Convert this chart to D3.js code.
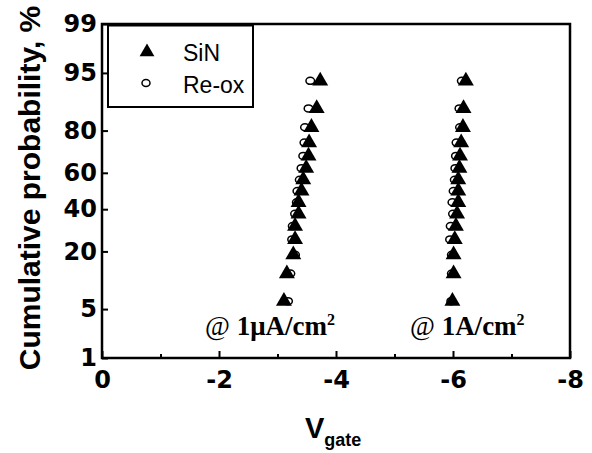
<!DOCTYPE html>
<html><head><meta charset="utf-8">
<script src="https://cdn.jsdelivr.net/npm/d3@7"></script>
<style>body{margin:0;background:#fff}</style>
</head><body>
<svg id="c" width="592" height="453"></svg>
<script>
// ---- data ----
const cumulativePercent = [6.25, 12.5, 18.75, 25, 31.25, 37.5, 43.75, 50, 56.25, 62.5, 68.75, 75, 81.25, 87.5, 93.75];
const sinLow  = [-3.11, -3.16, -3.27, -3.30, -3.30, -3.36, -3.36, -3.41, -3.44, -3.49, -3.53, -3.54, -3.58, -3.67, -3.73];
const reoxLow = [-3.18, -3.22, -3.30, -3.25, -3.26, -3.30, -3.33, -3.34, -3.38, -3.41, -3.44, -3.46, -3.47, -3.53, -3.56];
const sinHigh  = [-5.99, -6.01, -6.01, -6.03, -6.05, -6.07, -6.09, -6.09, -6.09, -6.11, -6.12, -6.14, -6.17, -6.18, -6.22];
const reoxHigh = [-5.97, -5.98, -5.98, -5.95, -5.96, -6.00, -5.99, -6.01, -6.03, -6.04, -6.05, -6.06, -6.12, -6.11, -6.15];
const xTicks = [0, -2, -4, -6, -8];
const xMinorTicks = [-1, -3, -5, -7];
const yTickPercents = [1, 5, 20, 40, 60, 80, 95, 99];
const yTickLabels = ["1", "5", "20", "40", "60", "80", "95", "99"];
const legendLabels = ["SiN", "Re-ox"];

// inverse normal CDF (Acklam)
function probit(p){
  const a=[-3.969683028665376e+01,2.209460984245205e+02,-2.759285104469687e+02,1.383577518672690e+02,-3.066479806614716e+01,2.506628277459239e+00];
  const b=[-5.447609879822406e+01,1.615858368580409e+02,-1.556989798598866e+02,6.680131188771972e+01,-1.328068155288572e+01];
  const c=[-7.784894002430293e-03,-3.223964580411365e-01,-2.400758277161838e+00,-2.549732539343734e+00,4.374664141464968e+00,2.938163982698783e+00];
  const d=[7.784695709041462e-03,3.224671290700398e-01,2.445134137142996e+00,3.754408661907416e+00];
  const pl=0.02425, ph=1-pl; let q,r;
  if(p<pl){q=Math.sqrt(-2*Math.log(p));return (((((c[0]*q+c[1])*q+c[2])*q+c[3])*q+c[4])*q+c[5])/((((d[0]*q+d[1])*q+d[2])*q+d[3])*q+1);}
  if(p<=ph){q=p-0.5;r=q*q;return (((((a[0]*r+a[1])*r+a[2])*r+a[3])*r+a[4])*r+a[5])*q/(((((b[0]*r+b[1])*r+b[2])*r+b[3])*r+b[4])*r+1);}
  q=Math.sqrt(-2*Math.log(1-p));return -(((((c[0]*q+c[1])*q+c[2])*q+c[3])*q+c[4])*q+c[5])/((((d[0]*q+d[1])*q+d[2])*q+d[3])*q+1);
}

const L=102, R=570, T=24, B=358;
const svg = d3.select("#c");
const x = d3.scaleLinear().domain([0,-8]).range([L,R]);
const y = d3.scaleLinear().domain([probit(0.01), probit(0.99)]).range([B,T]);
const yp = p => y(probit(p/100));

const tickFont = "'DejaVu Sans', sans-serif";

// x axis major
const gx = svg.append("g").attr("transform",`translate(0,${B})`)
  .call(d3.axisBottom(x).tickValues(xTicks).tickSize(-7).tickPadding(0).tickFormat(d=> d===0?"0":d3.format("d")(d).replace("−","-")));
gx.select(".domain").remove();
gx.selectAll("line").attr("stroke","#000").attr("stroke-width",2);
gx.selectAll("text").attr("dy",null).attr("y",30).attr("font-family",tickFont).attr("font-weight","bold").attr("font-size",24).attr("fill","#000");
// x minor
const gxm = svg.append("g").attr("transform",`translate(0,${B})`)
  .call(d3.axisBottom(x).tickValues(xMinorTicks).tickSize(-4).tickFormat(""));
gxm.select(".domain").remove();
gxm.selectAll("line").attr("stroke","#000").attr("stroke-width",2);

// y axis
const gy = svg.append("g").attr("transform",`translate(${L},0)`)
  .call(d3.axisLeft(y).tickValues(yTickPercents.map(p=>probit(p/100))).tickSize(-6).tickPadding(5).tickFormat((d,i)=>yTickLabels[i]));
gy.select(".domain").remove();
gy.selectAll("line").attr("stroke","#000").attr("stroke-width",2);
gy.selectAll("text").attr("font-family",tickFont).attr("font-weight","bold").attr("font-size",24).attr("fill","#000");

// frame
svg.append("rect").attr("x",L).attr("y",T).attr("width",R-L).attr("height",B-T)
  .attr("fill","none").attr("stroke","#000").attr("stroke-width",2.5);

// data
const tri = d3.symbol().type(d3.symbolTriangle).size(110);
function circles(vals){
  svg.append("g").selectAll("ellipse").data(vals).join("ellipse")
    .attr("cx",(d)=>x(d)).attr("cy",(d,i)=>yp(cumulativePercent[i]))
    .attr("rx",4.3).attr("ry",3.5).attr("fill","#fff").attr("stroke","#000").attr("stroke-width",1.5);
}
function triangles(vals){
  svg.append("g").selectAll("path").data(vals).join("path")
    .attr("d",tri).attr("transform",(d,i)=>`translate(${x(d)},${yp(cumulativePercent[i])})`).attr("fill","#000");
}
circles(reoxLow); circles(reoxHigh);
triangles(sinLow); triangles(sinHigh);

// legend
svg.append("rect").attr("x",108).attr("y",25.5).attr("width",145).attr("height",81.5)
  .attr("fill","#fff").attr("stroke","#000").attr("stroke-width",2);
svg.append("path").attr("d",d3.symbol().type(d3.symbolTriangle).size(95)).attr("transform","translate(147,52)").attr("fill","#000");
svg.append("ellipse").attr("cx",146).attr("cy",83).attr("rx",4).attr("ry",3.5).attr("fill","#fff").attr("stroke","#000").attr("stroke-width",1.5);
svg.selectAll(".lg").data(legendLabels).join("text").attr("class","lg")
  .attr("x",183).attr("y",(d,i)=>[61,93][i]).text(d=>d)
  .attr("font-family","'Liberation Sans', Arial, sans-serif").attr("font-size",23).attr("fill","#000");

// annotations
function annot(xpos, base){
  const t = svg.append("text").attr("x",xpos).attr("y",335)
    .attr("font-family","'Liberation Serif', 'Times New Roman', serif").attr("font-size",27).attr("font-weight","bold").attr("fill","#000");
  t.append("tspan").attr("font-weight","normal").text("@ ");
  t.append("tspan").text(base);
  t.append("tspan").attr("font-size",16).attr("dy",-10).text("2");
}
annot(205, "1\u03bcA/cm");
annot(410, "1A/cm");

// axis titles
svg.append("text").attr("transform","translate(40,188) rotate(-90)").attr("text-anchor","middle")
  .attr("font-family","'Liberation Sans', Arial, sans-serif").attr("font-weight","bold").attr("font-size",30).attr("fill","#000")
  .text("Cumulative probability, %");
const xt = svg.append("text").attr("x",305).attr("y",438)
  .attr("font-family","'Liberation Sans', Arial, sans-serif").attr("font-weight","bold").attr("font-size",29).attr("fill","#000");
xt.append("tspan").text("V");
xt.append("tspan").attr("font-size",18).attr("dy",8).text("gate");
</script>
</body></html>
